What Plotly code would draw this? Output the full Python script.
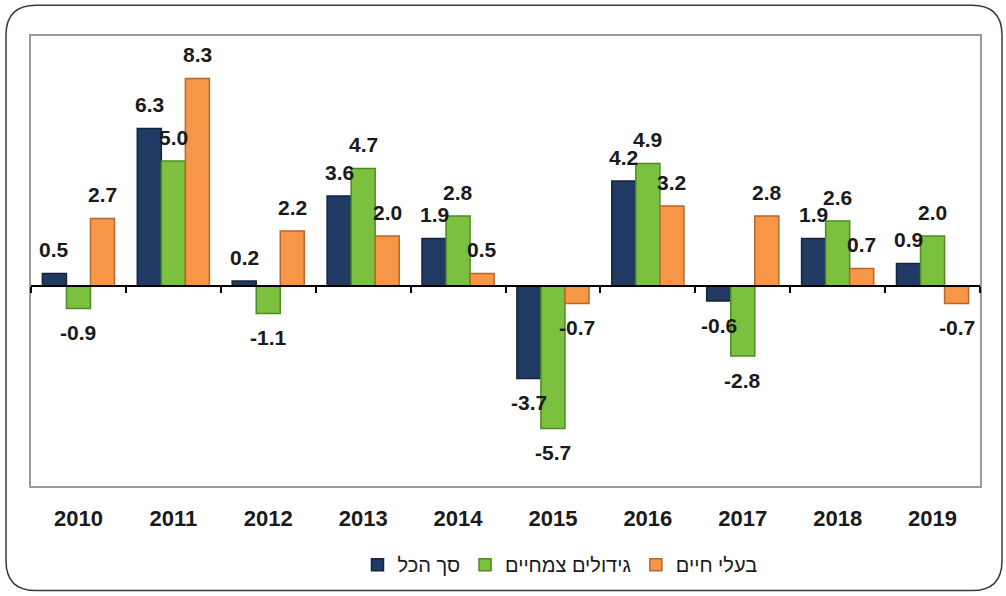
import plotly.graph_objects as go

years = ["2010", "2011", "2012", "2013", "2014", "2015", "2016", "2017", "2018", "2019"]
total = [0.5, 6.3, 0.2, 3.6, 1.9, -3.7, 4.2, -0.6, 1.9, 0.9]
crops = [-0.9, 5.0, -1.1, 4.7, 2.8, -5.7, 4.9, -2.8, 2.6, 2.0]
livestock = [2.7, 8.3, 2.2, 2.0, 0.5, -0.7, 3.2, 2.8, 0.7, -0.7]

series = [
    ("סך הכל", total, "#203A63", "#13243F"),
    ("גידולים צמחיים", crops, "#7CC040", "#4E8A22"),
    ("בעלי חיים", livestock, "#F79646", "#B8662A"),
]

L, R, T, B = 31, 26, 36, 108
W, H = 1006, 596
pw, ph = W - L - R, H - T - B
BARGAP = 0.24
bar_px = pw / len(years) * (1 - BARGAP) / len(series)

FONT = "Liberation Sans, Arial"
fig = go.Figure()
annotations = []
for i, (name, vals, col, edge) in enumerate(series):
    fig.add_trace(go.Bar(
        x=years, y=vals, name=name,
        marker=dict(color=col, line=dict(color=edge, width=1.5)),
        cliponaxis=False,
    ))
    for k, v in enumerate(vals):
        annotations.append(dict(
            x=k, y=v, xref="x", yref="y", text=f"{v:.1f}", showarrow=False,
            xshift=(i - 1) * bar_px, yshift=24 if v >= 0 else -24,
            font=dict(family=FONT, size=21, color="#1a1a1a", weight="bold"),
        ))

def px(x):
    return (x - L) / pw

def py(y):
    return (H - B - y) / ph

# rounded outer frame in paper coords
x0, x1, y0, y1, r = 6, 1002, 5, 593, 30
path = (f"M {px(x0+r)},{py(y0)} L {px(x1-r)},{py(y0)} Q {px(x1)},{py(y0)} {px(x1)},{py(y0+r)} "
        f"L {px(x1)},{py(y1-r)} Q {px(x1)},{py(y1)} {px(x1-r)},{py(y1)} "
        f"L {px(x0+r)},{py(y1)} Q {px(x0)},{py(y1)} {px(x0)},{py(y1-r)} "
        f"L {px(x0)},{py(y0+r)} Q {px(x0)},{py(y0)} {px(x0+r)},{py(y0)} Z")

ymin, ymax = -8, 10
fig.update_layout(
    width=W, height=H,
    margin=dict(l=L, r=R, t=T, b=B),
    paper_bgcolor="white", plot_bgcolor="white",
    barmode="group", bargap=BARGAP, bargroupgap=0.0,
    font=dict(family=FONT, color="#1a1a1a"),
    showlegend=True,
    legend=dict(orientation="h", x=px(560), xanchor="center", y=py(567), yanchor="middle",
                font=dict(size=20, family=FONT), traceorder="normal",
                itemwidth=30),
    xaxis=dict(type="category", range=[-0.5, len(years) - 0.5],
               showline=True, mirror=True, linecolor="#9a9a9a", linewidth=2,
               ticks="", tickfont=dict(size=22, weight="bold", family=FONT),
               ticklabelstandoff=12),
    yaxis=dict(range=[ymin, ymax], showline=True, mirror=True, linecolor="#9a9a9a", linewidth=2,
               showticklabels=False, showgrid=False, zeroline=False, ticks=""),
    xaxis2=dict(overlaying="x", anchor="free", position=(0 - ymin) / (ymax - ymin),
                range=[-0.5, len(years) - 0.5], showline=True, linecolor="black", linewidth=1.5,
                ticks="outside", ticklen=6, tickcolor="black", tickwidth=1.5,
                tickvals=[i - 0.5 for i in range(len(years) + 1)],
                showticklabels=False, showgrid=False, zeroline=False),
    shapes=[dict(type="path", path=path, xref="paper", yref="paper",
                 line=dict(color="#3a3a3a", width=1.5), layer="below")],
    annotations=annotations,
)
fig.add_trace(go.Scatter(x=[None], y=[None], xaxis="x2", showlegend=False, hoverinfo="skip"))

fig.write_html("out.html", config={"displayModeBar": False},
               post_script="document.body.style.margin='0px';document.body.style.overflow='hidden';")
